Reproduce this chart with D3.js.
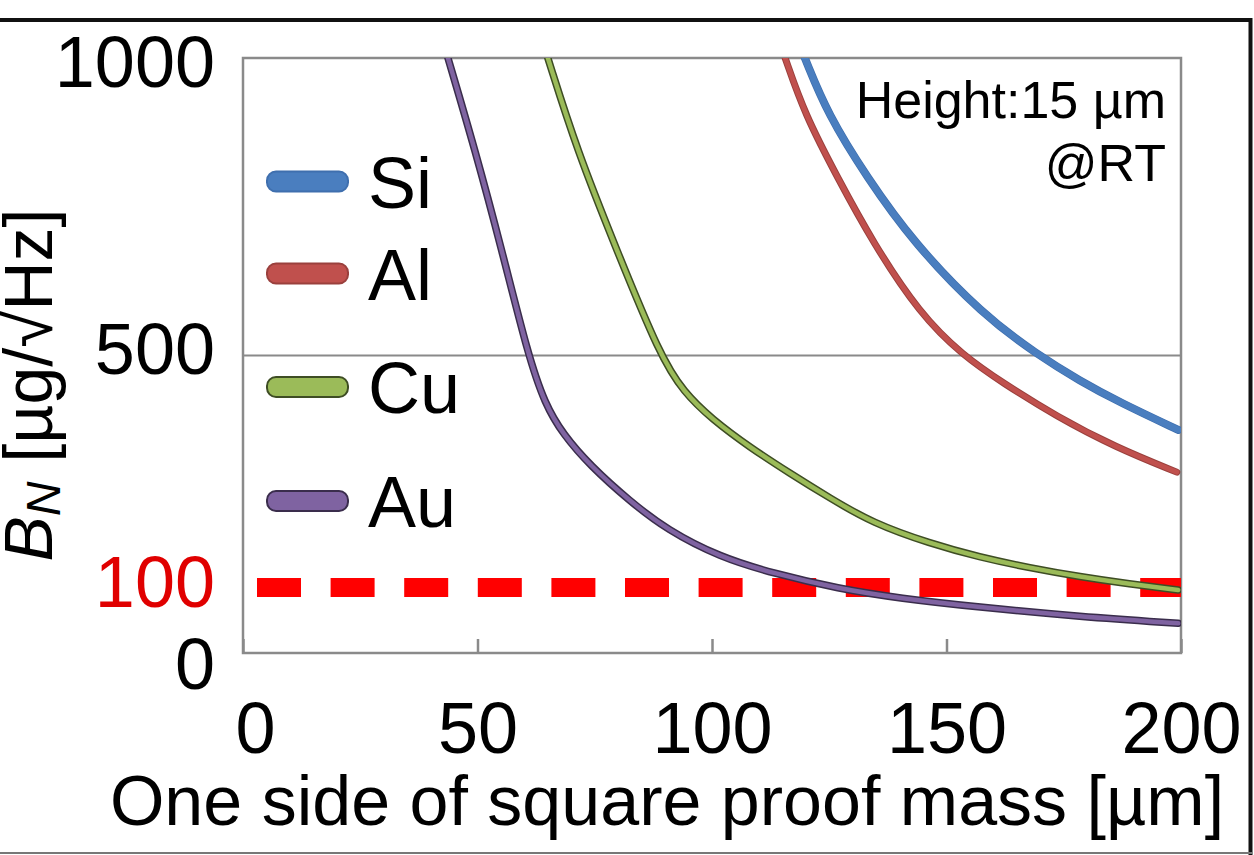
<!DOCTYPE html>
<html>
<head>
<meta charset="utf-8">
<script src="https://cdn.jsdelivr.net/npm/d3@7"></script>
<style>
  html, body { margin: 0; padding: 0; background: #fff; }
  svg { display: block; font-family: "Liberation Sans", Arial, sans-serif; }
</style>
</head>
<body>
<svg id="chart" width="1254" height="855"></svg>
<script>
// values: [side length µm, B_N µg/√Hz]
const materials = ['Si', 'Al', 'Cu', 'Au'];
const siPoints = [[119.8, 1000], [124.7, 905], [133, 800], [142.9, 690], [157.8, 568], [169.3, 502], [178.5, 457], [187, 421], [199.4, 375]];
const alPoints = [[115.6, 1000], [119.8, 905], [126.7, 800], [134.3, 690], [144.3, 570], [153.5, 500], [162, 454], [173.6, 397], [186, 346], [199.1, 304]];
const cuPoints = [[65, 1000], [71.2, 845], [79.7, 677], [88.9, 500], [94, 438], [100, 393], [108, 346], [116.6, 302], [125, 261], [134.3, 218], [146.5, 184], [157, 161], [167.8, 143], [178.5, 128], [189, 116], [199.4, 106]];
const auPoints = [[43.7, 1000], [49.5, 845], [55.2, 677], [60.8, 500], [64.4, 418], [68.2, 368], [74, 315], [82.5, 255], [90.4, 207], [101.7, 161], [113, 134], [127, 108], [140, 92], [157, 77], [178.5, 61], [199.4, 50]];
const xTicks = [0, 50, 100, 150, 200];
const yTicks = [0, 500, 1000];
const thresholdY = 110;   // red dashed line, as drawn
const thresholdLabel = '100';

const series = [siPoints, alPoints, cuPoints, auPoints];
const fills = ['#4a7ebf', '#c0504d', '#9bbb59', '#7f63a1'];
const edges = ['#3f6fae', '#9a403d', '#3e4d24', '#3a2d4c'];
const outerWidth = [8, 7, 7.5, 7.5];
const innerWidth = [6.5, 5, 4.5, 4.5];

const svg = d3.select('#chart');
const plotLeft = 243;
const plotRight = 1181;
const plotTop = 58;
const plotBottom = 653;

const x = d3.scaleLinear().domain([0, 200]).range([plotLeft, plotRight]);
const y = d3.scaleLinear().domain([0, 1000]).range([plotBottom, plotTop]);

// outer frame of the figure
svg.append('line').attr('x1', 0).attr('x2', 1252).attr('y1', 20).attr('y2', 20)
  .attr('stroke', '#111').attr('stroke-width', 4);
svg.append('line').attr('x1', 1250.5).attr('x2', 1250.5).attr('y1', 18).attr('y2', 855)
  .attr('stroke', '#111').attr('stroke-width', 4);
svg.append('line').attr('x1', 0).attr('x2', 1252).attr('y1', 853).attr('y2', 853)
  .attr('stroke', '#777').attr('stroke-width', 2);

svg.append('clipPath').attr('id', 'plot-clip')
  .append('rect')
  .attr('x', plotLeft).attr('y', plotTop)
  .attr('width', plotRight - plotLeft).attr('height', plotBottom - plotTop);

// grid line at 500
svg.append('line')
  .attr('x1', plotLeft).attr('x2', plotRight)
  .attr('y1', y(500)).attr('y2', y(500))
  .attr('stroke', '#8a8a8a').attr('stroke-width', 2);

// plot box
svg.append('rect')
  .attr('x', plotLeft).attr('y', plotTop)
  .attr('width', plotRight - plotLeft).attr('height', plotBottom - plotTop)
  .attr('fill', 'none')
  .attr('stroke', '#8a8a8a')
  .attr('stroke-width', 2.5);

// x axis
const xAxis = svg.append('g')
  .attr('transform', `translate(0,${plotBottom})`)
  .call(d3.axisBottom(x).tickValues(xTicks).tickSizeInner(-14).tickSizeOuter(0).tickPadding(49));
xAxis.select('.domain').remove();
xAxis.selectAll('.tick line').attr('stroke', '#8a8a8a').attr('stroke-width', 2.5);
xAxis.selectAll('.tick text')
  .attr('font-size', 72)
  .attr('fill', '#000')
  .attr('font-family', '"Liberation Sans", Arial, sans-serif')
  .attr('dx', (d) => (d === 0 ? 12 : 0));

// y axis labels
const yShift = { 0: 12, 500: -5, 1000: 5 };
const yAxis = svg.append('g')
  .attr('transform', 'translate(215,0)')
  .call(d3.axisLeft(y).tickValues(yTicks).tickFormat(d3.format('d')).tickSize(0).tickPadding(0));
yAxis.select('.domain').remove();
yAxis.selectAll('.tick text')
  .attr('font-size', 72)
  .attr('fill', '#000')
  .attr('font-family', '"Liberation Sans", Arial, sans-serif')
  .attr('y', (d) => yShift[d]);

// threshold label
svg.append('text')
  .attr('x', 215)
  .attr('y', y(thresholdY) - 4)
  .attr('dy', '0.32em')
  .attr('text-anchor', 'end')
  .attr('font-size', 72)
  .attr('fill', '#e00000')
  .text(thresholdLabel);

const plot = svg.append('g').attr('clip-path', 'url(#plot-clip)');

// dashed threshold line, under the curves
plot.append('line')
  .attr('x1', x(0)).attr('x2', x(200))
  .attr('y1', y(thresholdY)).attr('y2', y(thresholdY))
  .attr('stroke', '#ff0000')
  .attr('stroke-width', 19)
  .attr('stroke-dasharray', '44,29.6')
  .attr('stroke-dashoffset', 59.6);

const line = d3.line()
  .x((d) => x(d[0]))
  .y((d) => y(d[1]))
  .curve(d3.curveBasis);

series.forEach((pts, i) => {
  plot.append('path')
    .attr('d', line(pts))
    .attr('fill', 'none')
    .attr('stroke', edges[i])
    .attr('stroke-width', outerWidth[i])
    .attr('stroke-linecap', 'round');
  plot.append('path')
    .attr('d', line(pts))
    .attr('fill', 'none')
    .attr('stroke', fills[i])
    .attr('stroke-width', innerWidth[i])
    .attr('stroke-linecap', 'round');
});

// legend
const legendY = [181.5, 273.5, 387, 501];
const legend = svg.append('g');
materials.forEach((m, i) => {
  legend.append('rect')
    .attr('x', 267).attr('y', legendY[i] - 10)
    .attr('width', 81).attr('height', 20)
    .attr('rx', 9)
    .attr('fill', fills[i])
    .attr('stroke', edges[i])
    .attr('stroke-width', 2);
  legend.append('text')
    .attr('x', 368)
    .attr('y', legendY[i] + 26)
    .attr('font-size', 72)
    .attr('fill', '#000')
    .text(m);
});

// annotation
svg.append('text')
  .attr('x', 1166).attr('y', 118)
  .attr('text-anchor', 'end')
  .attr('font-size', 52)
  .text('Height:15 µm');
svg.append('text')
  .attr('x', 1166).attr('y', 181)
  .attr('text-anchor', 'end')
  .attr('font-size', 52)
  .text('@RT');

// axis titles
svg.append('text')
  .attr('x', 667).attr('y', 825)
  .attr('text-anchor', 'middle')
  .attr('font-size', 70)
  .text('One side of square proof mass [µm]');

const yTitle = svg.append('text')
  .attr('transform', 'translate(52,385) rotate(-90)')
  .attr('text-anchor', 'middle')
  .attr('font-size', 68);
yTitle.append('tspan').attr('font-style', 'italic').text('B');
yTitle.append('tspan').attr('font-style', 'italic').attr('font-size', 48).attr('dy', 8).text('N');
yTitle.append('tspan').attr('dy', -8).text(' [µg/√Hz]');
</script>
</body>
</html>
